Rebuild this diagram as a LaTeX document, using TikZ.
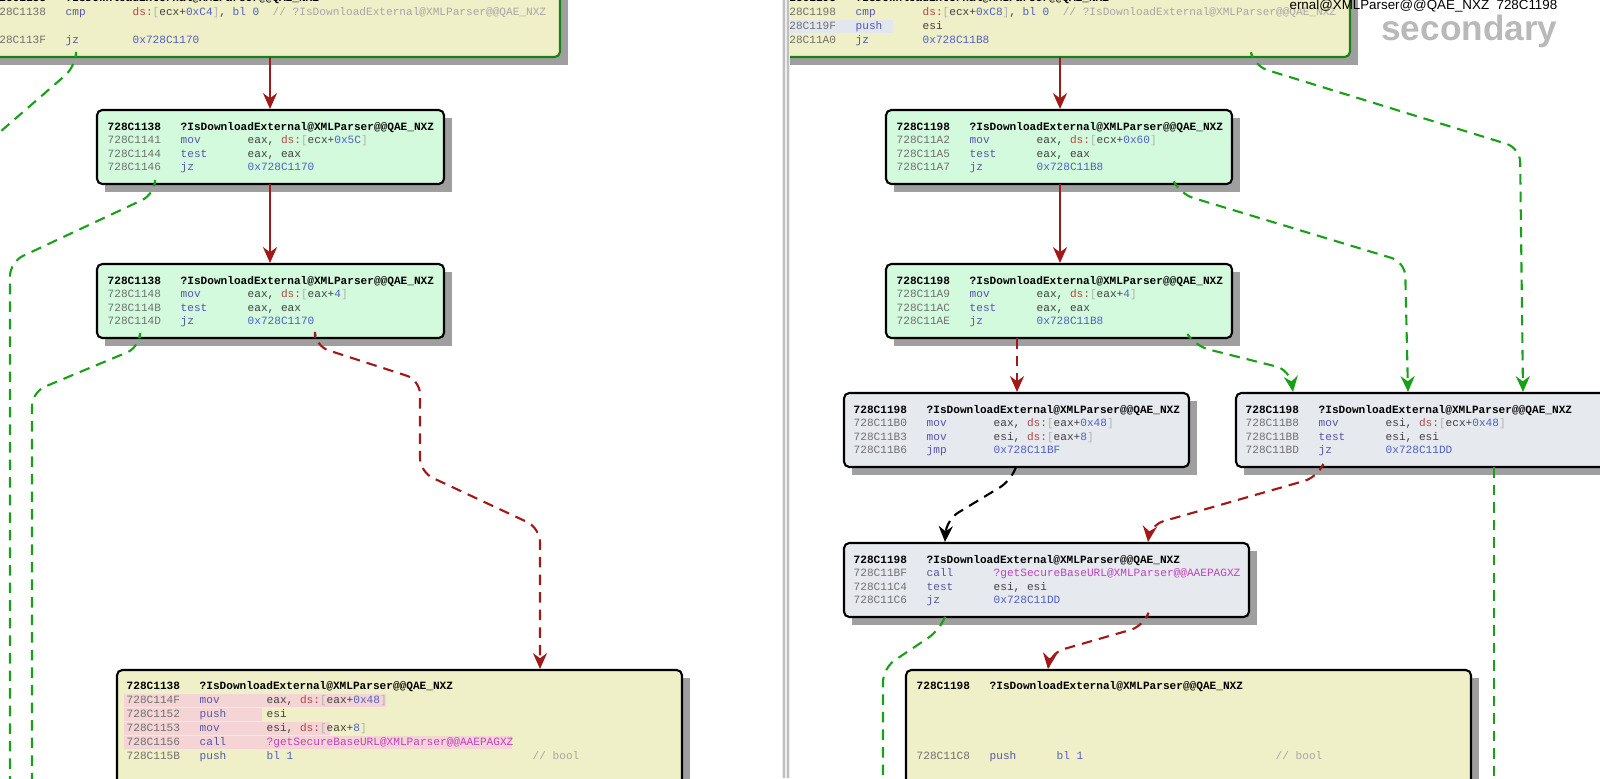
\documentclass[tikz,border=0pt]{standalone}
\usepackage{fontspec}
\setmonofont{Liberation Mono}
\setsansfont{Liberation Sans}
\usetikzlibrary{arrows.meta,positioning,calc,fit}
\definecolor{bbyellow}{HTML}{F0F0C8}
\definecolor{bbgreen}{HTML}{D3FADC}
\definecolor{bbgray}{HTML}{E6E9EE}
\definecolor{edgered}{HTML}{A01818}
\definecolor{edgegreen}{HTML}{18A018}
\definecolor{borgreen}{HTML}{1A801A}
\definecolor{addrc}{HTML}{707070}
\definecolor{mnemc}{HTML}{5555AA}
\definecolor{opc}{HTML}{404040}
\definecolor{dsc}{HTML}{B04848}
\definecolor{numc}{HTML}{5060C0}
\definecolor{funcc}{HTML}{C040C0}
\definecolor{hlpink}{HTML}{F4D4D4}
\definecolor{hlblue}{HTML}{E2E6EE}
\newcommand\cf{\fontsize{3.16}{4}\selectfont\ttfamily}
\newcommand\dsx[1]{\textcolor{dsc}{ds:}\textcolor{gray!60}{[}#1\textcolor{gray!60}{]}}
\newcommand\nm[1]{\textcolor{numc}{#1}}
% one line of code: x, y, address, mnemonic, operand
\newcommand\asm[5]{%
  \node[code, text=addrc] at (#1,#2) {#3};
  \node[code, text=mnemc] at (#1+73,#2) {#4};
  \node[code, text=opc] at (#1+140,#2) {#5};}
\newcommand\hdr[3]{%
  \node[code, font=\cf\bfseries] at (#1,#2) {#3};
  \node[code, font=\cf\bfseries] at (#1+73,#2) {?IsDownloadExternal@XMLParser@@QAE\_NXZ};}
% block with shadow: name, x1, y1, x2, y2, style
\newcommand\blk[6]{%
  \fill[gray!75] (#2+8,#3+8) rectangle (#4+8,#5+8);
  \node[#6, fit={(#2,#3) (#4,#5)}] (#1) {};}

\begin{document}
\begin{tikzpicture}[x=0.01cm, y=-0.01cm,
    code/.style = {anchor=base west, inner sep=0, font=\cf},
    bb/.style = {draw, line width=0.6pt, rounded corners=1.5pt, inner sep=0},
    bbtop/.style = {bb, fill=bbyellow, draw=borgreen},
    bbtrue/.style = {bb, fill=bbgreen},
    bbplain/.style = {bb, fill=bbgray},
    bbend/.style = {bb, fill=bbyellow},
    solidedge/.style = {draw=edgered, line width=0.6pt, -{Stealth[length=4.5pt,width=4pt]}},
    redge/.style = {draw=edgered, line width=0.6pt, dash pattern=on 3pt off 2pt, rounded corners=4pt, -{Stealth[length=4.5pt,width=4pt]}},
    gedge/.style = {draw=edgegreen, line width=0.6pt, dash pattern=on 3pt off 2pt, rounded corners=4pt, -{Stealth[length=4.5pt,width=4pt]}},
    kedge/.style = {draw=black, line width=0.6pt, dash pattern=on 3pt off 2pt, rounded corners=4pt, -{Stealth[length=4.5pt,width=4pt]}},
    gfree/.style = {gedge, -}
]

% left pane
\begin{scope}
\clip (0,0) rectangle (782,778);
\blk{lzero}{-20}{-40}{560}{57}{bbtop}
\node[code, font=\cf\bfseries] at (-8,1) {728C1138};
\node[code, font=\cf\bfseries] at (65,1) {?IsDownloadExternal@XMLParser@@QAE\_NXZ};
\asm{-8}{15}{728C1138}{cmp}{\dsx{ecx+\nm{0xC4}}, \nm{bl 0}\hspace{1.2em}\textcolor{gray!70}{// ?IsDownloadExternal@XMLParser@@QAE\_NXZ}}
\asm{-8}{43}{728C113F}{jz}{\nm{0x728C1170}}

\blk{lone}{97}{110}{444}{184}{bbtrue}
\hdr{107}{130}{728C1138}
\asm{107}{143.5}{728C1141}{mov}{eax, \dsx{ecx+\nm{0x5C}}}
\asm{107}{157}{728C1144}{test}{eax, eax}
\asm{107}{170.5}{728C1146}{jz}{\nm{0x728C1170}}

\blk{ltwo}{97}{264}{444}{338}{bbtrue}
\hdr{107}{284}{728C1138}
\asm{107}{297.5}{728C1148}{mov}{eax, \dsx{eax+\nm{4}}}
\asm{107}{311}{728C114B}{test}{eax, eax}
\asm{107}{324.5}{728C114D}{jz}{\nm{0x728C1170}}

\blk{lthree}{117}{670}{682}{800}{bbend}
\fill[hlpink] (124,694) rectangle (386,707);
\fill[hlpink] (124,708) rectangle (262,721);
\fill[hlpink] (124,722) rectangle (330,735);
\fill[hlpink] (124,736) rectangle (512,749);
\hdr{126}{689}{728C1138}
\asm{126}{703}{728C114F}{mov}{eax, \dsx{eax+\nm{0x48}}}
\asm{126}{717}{728C1152}{push}{esi}
\asm{126}{731}{728C1153}{mov}{esi, \dsx{eax+\nm{8}}}
\asm{126}{745}{728C1156}{call}{\textcolor{funcc}{?getSecureBaseURL@XMLParser@@AAEPAGXZ}}
\asm{126}{759}{728C115B}{push}{\nm{bl 1}}
\node[code, text=gray!70] at (532,759) {// bool};

\draw[solidedge] (270,57) -- (lone.north -| 270,0);
\draw[solidedge] (270,184) -- (ltwo.north -| 270,0);
\draw[redge] (315,338) -- (315,346) -- (420,380) -- (420,472) -- (540,528) -- (lthree.north -| 540,0);
\draw[gfree] (76,57) -- (76,66) -- (0,132);
\draw[gfree] (155,184) -- (155,194) -- (10,262) -- (10,790);
\draw[gfree] (140,338) -- (140,347) -- (32,392) -- (32,790);
\end{scope}

% divider
\fill[gray!15] (782,0) rectangle (790,778);
\draw[gray!50] (784,0) -- (784,778) (788,0) -- (788,778);

% right pane
\begin{scope}
\clip (790,0) rectangle (1600,778);
\blk{rzero}{760}{-40}{1350}{57}{bbtop}
\fill[hlblue] (790,20) rectangle (893,33);
\node[code, font=\cf\bfseries] at (782,1) {728C1198};
\node[code, font=\cf\bfseries] at (855,1) {?IsDownloadExternal@XMLParser@@QAE\_NXZ};
\asm{782}{15}{728C1198}{cmp}{\dsx{ecx+\nm{0xC8}}, \nm{bl 0}\hspace{1.2em}\textcolor{gray!70}{// ?IsDownloadExternal@XMLParser@@QAE\_NXZ}}
\asm{782}{29}{728C119F}{push}{esi}
\asm{782}{43}{728C11A0}{jz}{\nm{0x728C11B8}}

\blk{rone}{886}{110}{1232}{184}{bbtrue}
\hdr{896}{130}{728C1198}
\asm{896}{143.5}{728C11A2}{mov}{eax, \dsx{ecx+\nm{0x60}}}
\asm{896}{157}{728C11A5}{test}{eax, eax}
\asm{896}{170.5}{728C11A7}{jz}{\nm{0x728C11B8}}

\blk{rtwo}{886}{264}{1232}{338}{bbtrue}
\hdr{896}{284}{728C1198}
\asm{896}{297.5}{728C11A9}{mov}{eax, \dsx{eax+\nm{4}}}
\asm{896}{311}{728C11AC}{test}{eax, eax}
\asm{896}{324.5}{728C11AE}{jz}{\nm{0x728C11B8}}

\blk{rthree}{844}{393}{1189}{467}{bbplain}
\hdr{853}{413}{728C1198}
\asm{853}{426.5}{728C11B0}{mov}{eax, \dsx{eax+\nm{0x48}}}
\asm{853}{440}{728C11B3}{mov}{esi, \dsx{eax+\nm{8}}}
\asm{853}{453.5}{728C11B6}{jmp}{\nm{0x728C11BF}}

\blk{rfour}{1236}{393}{1640}{467}{bbplain}
\hdr{1245}{413}{728C1198}
\asm{1245}{426.5}{728C11B8}{mov}{esi, \dsx{ecx+\nm{0x48}}}
\asm{1245}{440}{728C11BB}{test}{esi, esi}
\asm{1245}{453.5}{728C11BD}{jz}{\nm{0x728C11DD}}

\blk{rfive}{844}{543}{1249}{617}{bbplain}
\hdr{853}{563}{728C1198}
\asm{853}{576.5}{728C11BF}{call}{\textcolor{funcc}{?getSecureBaseURL@XMLParser@@AAEPAGXZ}}
\asm{853}{590}{728C11C4}{test}{esi, esi}
\asm{853}{603.5}{728C11C6}{jz}{\nm{0x728C11DD}}

\blk{rsix}{906}{670}{1471}{800}{bbend}
\hdr{916}{689}{728C1198}
\asm{916}{759}{728C11C8}{push}{\nm{bl 1}}
\node[code, text=gray!70] at (1275,759) {// bool};

\draw[solidedge] (1060,57) -- (rone.north -| 1060,0);
\draw[gedge] (1252,57) -- (1254,66) -- (1520,148) -- (rfour.north -| 1523,0);
\draw[solidedge] (1060,184) -- (rtwo.north -| 1060,0);
\draw[gedge] (1175,184) -- (1180,194) -- (1405,262) -- (rfour.north -| 1408,0);
\draw[redge] (1017,338) -- (rthree.north -| 1017,0);
\draw[gedge] (1190,338) -- (1195,346) -- (1290,370) -- (rfour.north -| 1293,0);
\draw[kedge] (1016,467) -- (1012,480) -- (946,520) -- (rfive.north -| 945,0);
\draw[redge] (1322,467) -- (1318,477) -- (1150,525) -- (rfive.north -| 1148,0);
\draw[gfree] (1494,467) -- (1494,790);
\draw[redge] (1147,617) -- (1144,626) -- (1050,653) -- (rsix.north -| 1048,0);
\draw[gfree] (945,617) -- (940,630) -- (883,668) -- (883,790);

\node[anchor=base east, inner sep=0, font=\fontsize{3.8}{5}\selectfont\sffamily] (ttl) at (1558,9) {ernal@XMLParser@@QAE\_NXZ\ \ 728C1198};
\node[anchor=north east, inner sep=0, font=\fontsize{10}{11}\selectfont\sffamily\bfseries, text=gray!55] (mode) at (1558,14) {secondary};
\end{scope}
\pgfresetboundingbox
\useasboundingbox (0,0) rectangle (1600,778);
\end{tikzpicture}
\end{document}
